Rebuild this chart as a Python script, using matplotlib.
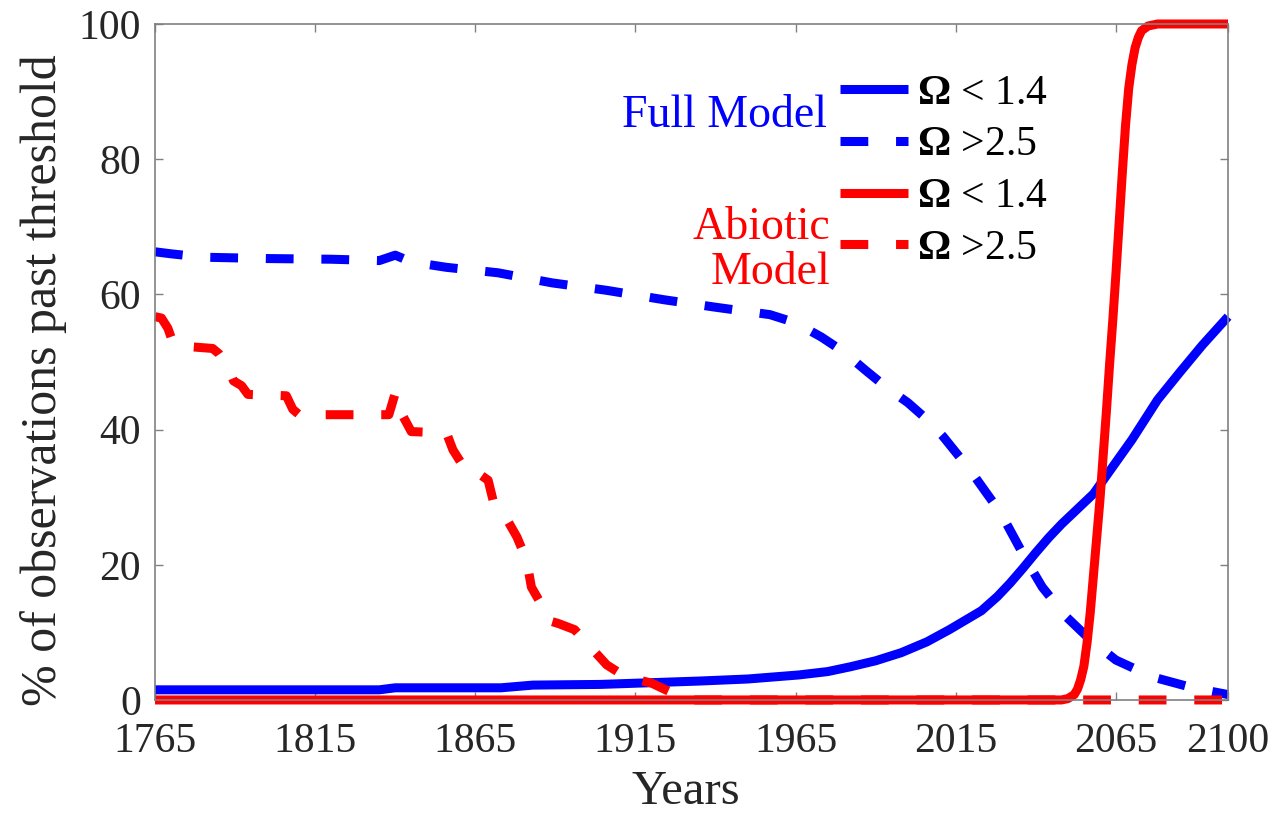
import matplotlib
matplotlib.use("Agg")
import matplotlib.pyplot as plt
from matplotlib.lines import Line2D

plt.rcParams['font.family'] = ['Liberation Serif', 'DejaVu Serif']
plt.rcParams['mathtext.fontset'] = 'custom'
plt.rcParams['mathtext.rm'] = 'Liberation Serif'
plt.rcParams['mathtext.bf'] = 'Liberation Serif:bold'
plt.rcParams['lines.scale_dashes'] = False

# --- data ---
full_low_years = [1765, 1800, 1835, 1840, 1873, 1883, 1904, 1935, 1950, 1966, 1975, 1982,
                  1990, 1998, 2006, 2013, 2018, 2023, 2028, 2032, 2036, 2040, 2044, 2048,
                  2052, 2058, 2064, 2070, 2078, 2085, 2092, 2100]
full_low_vals = [1.5, 1.5, 1.5, 1.8, 1.8, 2.2, 2.3, 2.8, 3.1, 3.7, 4.2, 4.9,
                 5.8, 7.0, 8.6, 10.4, 11.8, 13.2, 15.3, 17.3, 19.5, 21.8, 24.0, 26.0,
                 27.8, 30.5, 34.5, 38.5, 44.4, 48.5, 52.5, 56.7]

full_high_years = [1765, 1770, 1780, 1800, 1820, 1835, 1840, 1845, 1856, 1872, 1889, 1906,
                   1924, 1940, 1957, 1965, 1973, 1980, 1987, 1994, 2000, 2006, 2011, 2019.5,
                   2024, 2029, 2037, 2042, 2049.5, 2057, 2065, 2076.5, 2089, 2100]
full_high_vals = [66.3, 66.0, 65.5, 65.3, 65.2, 65.0, 65.8, 64.8, 64.0, 63.2, 61.7, 60.6,
                  59.2, 58.1, 57.0, 55.8, 53.7, 51.5, 48.7, 46.0, 44.0, 41.5, 39.0, 34.0,
                  31.0, 27.7, 20.7, 16.7, 12.3, 8.9, 5.9, 3.4, 1.8, 0.8]

abio_low_years = [1765, 2048, 2050, 2052, 2053, 2054, 2055, 2056, 2057, 2058, 2059, 2060,
                  2061, 2062, 2063, 2064, 2065, 2066, 2067, 2068, 2069, 2070, 2071, 2072,
                  2073, 2075, 2078, 2100]
abio_low_vals = [0, 0, 0.2, 0.8, 1.6, 3.0, 5.0, 8.5, 13.0, 18.5, 24.0, 29.5,
                 36.0, 42.5, 49.5, 56.0, 63.0, 70.5, 78.0, 85.0, 90.5, 94.0, 96.5, 98.0,
                 99.0, 99.7, 100, 100]

abio_high_years = [1765, 1767, 1769, 1770.5, 1772, 1783, 1785, 1787.5, 1789.5, 1792, 1794,
                   1806, 1808, 1810, 1838, 1840, 1842.5, 1845, 1856, 1858, 1862, 1866,
                   1869, 1870.5, 1875, 1878, 1881, 1882.5, 1886, 1887.5, 1891, 1896, 1901,
                   1906, 1912, 1920, 1928, 1932, 2100]
abio_high_vals = [56.7, 56.5, 55.0, 53.0, 52.4, 52.0, 51.2, 49.5, 47.2, 46.5, 45.2,
                  45.0, 43.0, 42.2, 42.2, 45.4, 41.9, 39.7, 39.5, 37.0, 34.0, 33.5,
                  32.5, 29.6, 26.6, 24.1, 20.7, 16.7, 13.8, 11.8, 11.3, 10.4, 7.8,
                  5.2, 3.4, 2.5, 0.7, 0.0, 0.0]

xticks = [1765, 1815, 1865, 1915, 1965, 2015, 2065, 2100]
yticks = [0, 20, 40, 60, 80, 100]
labels = [r'$\mathbf{\Omega}$ < 1.4', r'$\mathbf{\Omega}$ >2.5',
          r'$\mathbf{\Omega}$ < 1.4', r'$\mathbf{\Omega}$ >2.5']

BLUE = '#0000ff'
RED = '#ff0000'
LW = 6.5
DASH = (0, (20, 20))

fig = plt.figure(figsize=(12.76, 8.16), dpi=100)
ax = fig.add_axes([0.1215, 0.1422, 0.8409, 0.8284])

kw = dict(lw=LW, clip_on=False, solid_capstyle='butt', dash_capstyle='butt',
          solid_joinstyle='round', dash_joinstyle='round')
ax.plot(full_low_years, full_low_vals, color=BLUE, **kw)
ax.plot(full_high_years, full_high_vals, color=BLUE, ls=DASH, **kw)
ax.plot(abio_low_years, abio_low_vals, color=RED, **kw)
ax.plot(abio_high_years, abio_high_vals, color=RED, ls=DASH, **kw)

ax.set_xlim(1765, 2100)
ax.set_ylim(0, 100)
ax.set_xticks(xticks)
ax.set_yticks(yticks)
ax.tick_params(direction='in', length=6, width=1, color='#808080',
               top=True, right=True, labelsize=30, labelcolor='#262626')
ax.tick_params(axis='x', pad=16)
ax.tick_params(axis='y', pad=10)
for s in ax.spines.values():
    s.set_color('#808080')
    s.set_linewidth(1.2)

ax.set_xlabel('Years', fontsize=35, color='#262626', va='baseline')
ax.xaxis.set_label_coords(0.495, -0.1538)
ax.set_ylabel('% of observations past threshold', fontsize=36, color='#262626', va='center')
ax.yaxis.set_label_coords(-0.104, 0.473)

handles = [Line2D([], [], color=BLUE, lw=LW, solid_capstyle='butt'),
           Line2D([], [], color=BLUE, lw=LW, ls=DASH, dash_capstyle='butt'),
           Line2D([], [], color=RED, lw=LW, solid_capstyle='butt'),
           Line2D([], [], color=RED, lw=LW, ls=DASH, dash_capstyle='butt')]
ax.legend(handles, labels, loc='upper left', bbox_to_anchor=(0.638, 0.926),
          frameon=False, fontsize=30, handlelength=1.63, handletextpad=0.22,
          labelspacing=0.32, borderpad=0, borderaxespad=0)

ax.text(0.626, 0.864, 'Full Model', transform=ax.transAxes, color=BLUE,
        fontsize=33, ha='right', va='center')
ax.text(0.629, 0.665, 'Abiotic\nModel', transform=ax.transAxes, color=RED,
        fontsize=33, ha='right', va='center', multialignment='right', linespacing=1.08)

fig.savefig('out.png', dpi=100)
